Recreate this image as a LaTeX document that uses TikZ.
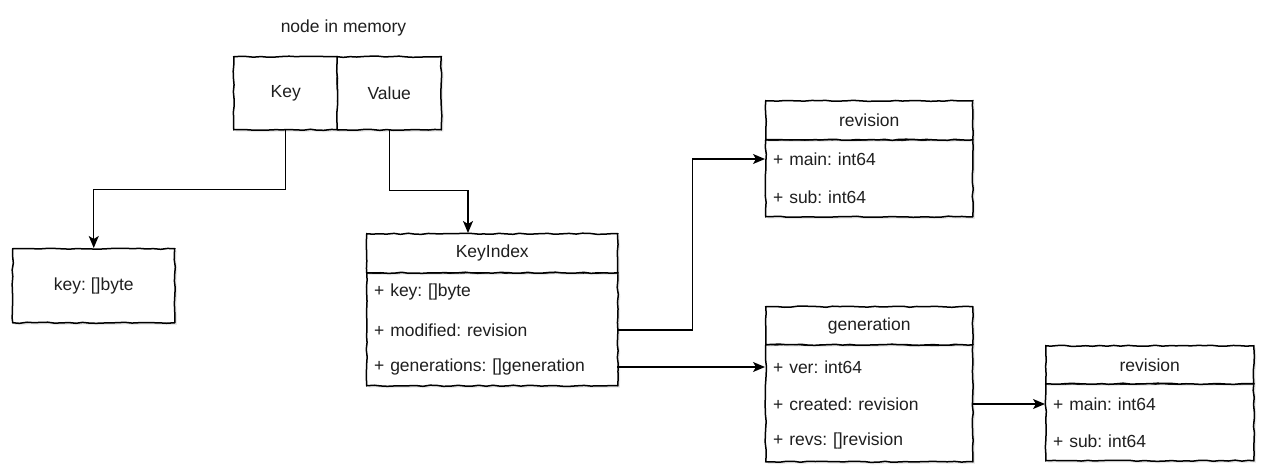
\documentclass[tikz,border=0pt]{standalone}
\usepackage{fontspec}
\setmainfont{Liberation Sans}
\usetikzlibrary{positioning}
\usetikzlibrary{decorations.pathmorphing}
\usetikzlibrary{arrows.meta}
\usetikzlibrary{shadows}
\frenchspacing

\tikzset{
  sketch/.style={decorate,decoration={random steps,segment length=7pt,amplitude=0.6pt}},
  box/.style={draw,sketch,line width=1.5pt,fill=white,anchor=north west,inner sep=0pt,
    drop shadow={opacity=0.18,shadow xshift=2pt,shadow yshift=-2pt}},
  row/.style={anchor=west,inner xsep=8pt,inner ysep=0pt,align=left,text width=#1},
  link/.style={-{Stealth[length=12pt,width=10pt,inset=3pt]},line width=1.4pt}
}

\begin{document}
\begin{tikzpicture}[x=1pt,y=-1pt,font=\fontsize{17.5}{20}\selectfont,text=black!88]
  \useasboundingbox (0,0) rectangle (1280,473);

  % node in memory
  \node (title) at (343.5,28) {node in memory};
  \node[box,minimum width=104,minimum height=73] (key) at (233,56) {Key};
  \node[box,minimum width=104,minimum height=73] (value) at (336.5,56) {Value};

  \node[box,minimum width=162,minimum height=74] (keybyte) at (12,248) {key: []byte};

  %%%%%%% KeyIndex
  \node[box,minimum width=251,minimum height=113] (kidxbody) at (366,272) {};
  \node[box,minimum width=251,minimum height=39] (kidx) at (366,233) {KeyIndex};
  \node[row=235] (kkey) at (366,292) {+ key: []byte};
  \node[row=235] (kmod) at (366,330) {+ modified: revision};
  \node[row=235] (kgen) at (366,367) {+ generations: []generation};
  \coordinate (kin) at (468,233);

  %%%%%%% revision (top)
  \node[box,minimum width=207,minimum height=77] (revbody) at (765,139) {};
  \node[box,minimum width=207,minimum height=39] (rev) at (765,100) {revision};
  \node[row=191] (rmain) at (765,159) {+ main: int64};
  \node[row=191] (rsub) at (765,197) {+ sub: int64};

  %%%%%%% generation
  \node[box,minimum width=207,minimum height=117] (genbody) at (765,344) {};
  \node[box,minimum width=207,minimum height=38] (gen) at (765,306) {generation};
  \node[row=191] (gver) at (765,367) {+ ver: int64};
  \node[row=191] (gcre) at (765,404) {+ created: revision};
  \node[row=191] (grevs) at (765,441) {+ revs: []revision};

  %%%%%%% revision (bottom)
  \node[box,minimum width=208,minimum height=77] (rev2body) at (1045,383) {};
  \node[box,minimum width=208,minimum height=38] (rev2) at (1045,345) {revision};
  \node[row=192] (r2main) at (1045,404) {+ main: int64};
  \node[row=192] (r2sub) at (1045,441) {+ sub: int64};

  % connectors
  \draw[link] (key.south) -- ++(0,59) -| (keybyte.north);
  \draw[link] (value.south) -- ++(0,60) -| (kin);
  \draw[link] (kmod.east) -- ++(75,0) |- (rmain.west);
  \draw[link] (kgen.east) -- (gver.west);
  \draw[link] (gcre.east) -- (r2main.west);
\end{tikzpicture}
\end{document}
